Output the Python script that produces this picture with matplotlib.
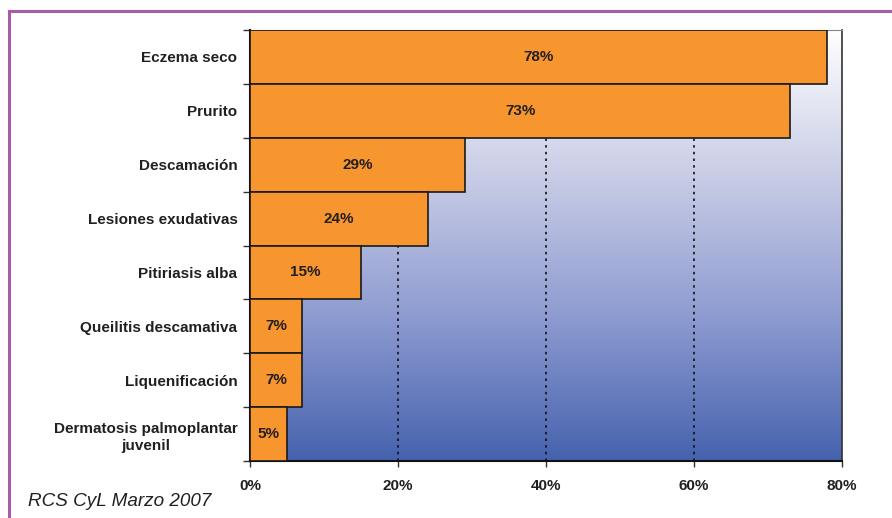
import numpy as np
import matplotlib.pyplot as plt
from matplotlib.colors import LinearSegmentedColormap
from matplotlib.lines import Line2D

categories = [
    "Eczema seco",
    "Prurito",
    "Descamación",
    "Lesiones exudativas",
    "Pitiriasis alba",
    "Queilitis descamativa",
    "Liquenificación",
    "Dermatosis palmoplantar\njuvenil",
]
values = [78, 73, 29, 24, 15, 7, 7, 5]
x_ticks = [0, 20, 40, 60, 80]
x_tick_labels = ["0%", "20%", "40%", "60%", "80%"]
source = "RCS CyL Marzo 2007"

plt.rcParams["font.family"] = ["Liberation Sans", "DejaVu Sans"]
text_color = "#231f20"
bar_color = "#f7952e"
fs = 11

fig = plt.figure(figsize=(8.92, 5.18), dpi=100)
ax = fig.add_axes([250 / 892, 1 - 461 / 518, (842 - 250) / 892, (461 - 30) / 518])

# vertical gradient background: white at top to blue at bottom
grad = np.linspace(0, 1, 256).reshape(-1, 1)
cmap = LinearSegmentedColormap.from_list("bg", ["#ffffff", "#c9cde6", "#8d9bd0", "#4662ae"])
ax.imshow(grad, cmap=cmap, aspect="auto", extent=[0, 1, 0, 1],
          transform=ax.transAxes, zorder=0, origin="upper")

n = len(categories)
ypos = np.arange(n)
ax.barh(ypos, values, height=1.0, color=bar_color, edgecolor="#1a1a1a",
        linewidth=1.2, zorder=3)

for y, v in zip(ypos, values):
    ax.text(v / 2, y, f"{v}%", ha="center", va="center", fontsize=fs,
            fontweight="bold", color=text_color, zorder=4)

ax.set_xlim(0, 80)
ax.set_ylim(n - 0.5, -0.5)

# dotted grid lines
for g in x_ticks[1:-1]:
    ax.axvline(g, color="#111111", linestyle=(0, (1.5, 2.5)), linewidth=1.2, zorder=1)

ax.set_xticks(x_ticks)
ax.set_xticklabels(x_tick_labels, fontsize=fs, fontweight="bold", color=text_color)
ax.set_yticks(ypos)
ax.set_yticklabels(categories, fontsize=fs, fontweight="bold", color=text_color,
                   multialignment="center", linespacing=1.35)
ax.tick_params(axis="y", length=0, pad=9)
ax.tick_params(axis="x", length=4, width=1, color="#333333", pad=9)

# category boundary ticks on the y axis
ax.set_yticks(np.arange(-0.5, n, 1.0), minor=True)
ax.tick_params(axis="y", which="minor", length=5, width=1, color="#333333")

ax.spines["top"].set_color("#888888")
ax.spines["top"].set_linewidth(0.8)
ax.spines["left"].set_color("#111111")
ax.spines["left"].set_linewidth(1.5)
ax.spines["bottom"].set_color("#111111")
ax.spines["bottom"].set_linewidth(1.5)
ax.spines["right"].set_linestyle((0, (2, 1)))
ax.spines["right"].set_color("#333333")
ax.spines["right"].set_linewidth(1.2)

# purple frame
frame_kw = dict(color="#a85ca8", linewidth=2.2, transform=fig.transFigure)
fig.add_artist(Line2D([9 / 892, 1.0], [1 - 11 / 518, 1 - 11 / 518], **frame_kw))
fig.add_artist(Line2D([9 / 892, 9 / 892], [1 - 11 / 518, 0.0], **frame_kw))

fig.text(28 / 892, 1 - 501 / 518, source, fontsize=13.6, fontstyle="italic",
         color=text_color, va="center", ha="left")

fig.savefig("out.png", dpi=100)
